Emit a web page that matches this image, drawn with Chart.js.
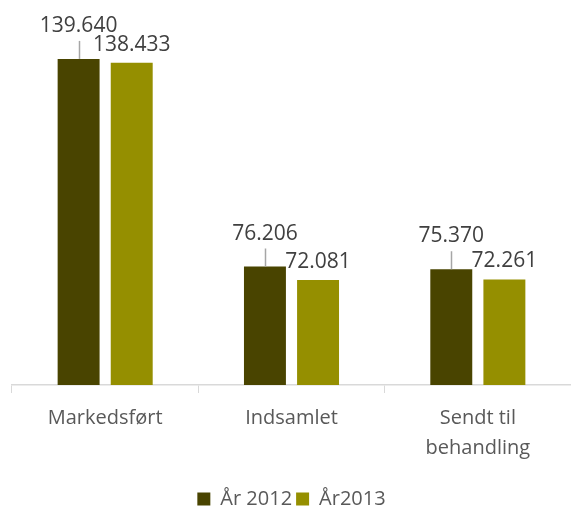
<!DOCTYPE html>
<html>
<head>
<meta charset="utf-8">
<script src="https://cdn.jsdelivr.net/npm/chart.js@4/dist/chart.umd.min.js"></script>
<style>
  html, body { margin: 0; padding: 0; background: #ffffff; }
  #wrap { width: 571px; height: 508px; }
</style>
</head>
<body>
<div id="wrap"><canvas id="c" width="571" height="508"></canvas></div>
<script>
// Categories (multi-line labels as arrays)
const categories = ['Markedsført', 'Indsamlet', ['Sendt til', 'behandling']];
const seriesNames = ['År 2012', 'År2013'];
const values2012 = [139640, 76206, 75370];
const values2013 = [138433, 72081, 72261];

const seriesColors = ['#494400', '#958f00'];

// Danish thousands separator: 139640 -> "139.640"
function formatDa(v) {
  return String(Math.round(v)).replace(/\B(?=(\d{3})+(?!\d))/g, '.');
}

// Value labels above the bars; the first series gets a raised label with a leader line
const valueLabels = {
  id: 'valueLabels',
  afterDatasetsDraw(chart) {
    const ctx = chart.ctx;
    ctx.save();
    ctx.font = '21px "Open Sans"';
    ctx.textAlign = 'center';
    ctx.textBaseline = 'alphabetic';
    chart.data.datasets.forEach((ds, di) => {
      const meta = chart.getDatasetMeta(di);
      meta.data.forEach((bar, i) => {
        const raised = di === 0;
        const baseline = bar.y - (raised ? 27 : 12);
        if (raised) {
          ctx.strokeStyle = '#a6a6a6';
          ctx.lineWidth = 1.5;
          ctx.beginPath();
          ctx.moveTo(Math.round(bar.x) + 0.5, baseline + 9);
          ctx.lineTo(Math.round(bar.x) + 0.5, bar.y);
          ctx.stroke();
        }
        ctx.fillStyle = '#404040';
        ctx.fillText(formatDa(ds.data[i]), bar.x, baseline);
      });
    });
    ctx.restore();
  }
};

new Chart(document.getElementById('c'), {
  type: 'bar',
  data: {
    labels: categories,
    datasets: [
      { label: seriesNames[0], data: values2012, backgroundColor: seriesColors[0], borderWidth: 0 },
      { label: seriesNames[1], data: values2013, backgroundColor: seriesColors[1], borderWidth: 0 }
    ]
  },
  options: {
    responsive: false,
    animation: false,
    devicePixelRatio: 1,
    layout: { padding: { left: 12, right: 0, top: 25, bottom: -11 } },
    datasets: { bar: { categoryPercentage: 0.57, barPercentage: 0.79 } },
    scales: {
      x: {
        grid: { display: true, drawOnChartArea: false, drawTicks: true, tickLength: 8, color: '#d9d9d9', offset: true },
        border: { display: true, color: '#d9d9d9', width: 1.5 },
        ticks: { color: '#595959', font: { family: 'Open Sans', size: 20, lineHeight: 1.5 }, padding: 10, maxRotation: 0, autoSkip: false },
        afterFit(scale) { scale.height = 100; }
      },
      y: {
        display: false,
        min: 40000,
        max: 150000
      }
    },
    plugins: {
      legend: {
        position: 'bottom',
        labels: { boxWidth: 13, boxHeight: 13, color: '#595959', font: { family: 'Open Sans', size: 20 }, padding: 4 }
      },
      tooltip: { enabled: false }
    }
  },
  plugins: [valueLabels]
});
</script>
</body>
</html>
